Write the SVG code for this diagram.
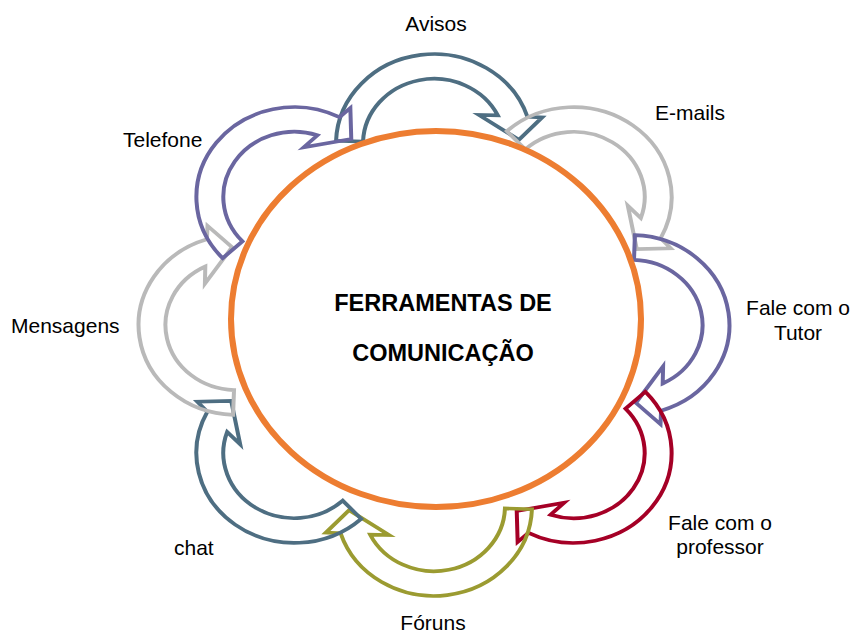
<svg xmlns="http://www.w3.org/2000/svg" xmlns:xlink="http://www.w3.org/1999/xlink" width="853" height="635" viewBox="0 0 853 635">
<defs>
<style>
.arr{fill:none;stroke-width:4;stroke-linejoin:miter;vector-effect:non-scaling-stroke}
.lbl{font-family:"Liberation Sans",Arial,sans-serif;font-size:21px;fill:#000}
.ctr{font-family:"Liberation Sans",Arial,sans-serif;font-size:23.5px;font-weight:bold;fill:#000}
</style>
<path id="arc" d="M -97.94 -3.42 A 98 98 0 0 1 93.4 -29.6 L 108.2 -29 L 84.9 -4.4 L 45 -31.6 L 63.8 -31.2 A 71 71 0 0 0 -70.96 -2.48 Z"/>
</defs>
<rect width="853" height="635" fill="#fff"/>
<g id="connectors">
<g id="avisos"><use xlink:href="#arc" class="arr" stroke="#4E6E82" transform="translate(434 325) scale(1 0.917) rotate(0) translate(0 -197.5)"/><text class="lbl" x="436" y="31" text-anchor="middle">Avisos</text></g>
<g id="emails"><use xlink:href="#arc" class="arr" stroke="#B9B9B9" transform="translate(434 325) scale(1 0.917) rotate(45) translate(0 -197.5)"/><text class="lbl" x="655" y="120">E-mails</text></g>
<g id="tutor"><use xlink:href="#arc" class="arr" stroke="#6A66A0" transform="translate(434 325) scale(1 0.917) rotate(90) translate(0 -197.5)"/><text class="lbl" x="798" y="315" text-anchor="middle">Fale com o</text><text class="lbl" x="798" y="340" text-anchor="middle">Tutor</text></g>
<g id="professor"><use xlink:href="#arc" class="arr" stroke="#A50026" transform="translate(434 325) scale(1 0.917) rotate(135) translate(0 -197.5)"/><text class="lbl" x="720" y="530" text-anchor="middle">Fale com o</text><text class="lbl" x="720" y="554" text-anchor="middle">professor</text></g>
<g id="foruns"><use xlink:href="#arc" class="arr" stroke="#9B9B31" transform="translate(434 325) scale(1 0.917) rotate(180) translate(0 -197.5)"/><text class="lbl" x="433" y="630" text-anchor="middle">Fóruns</text></g>
<g id="chat"><use xlink:href="#arc" class="arr" stroke="#4E6E82" transform="translate(434 325) scale(1 0.917) rotate(225) translate(0 -197.5)"/><text class="lbl" x="174" y="555">chat</text></g>
<g id="mensagens"><use xlink:href="#arc" class="arr" stroke="#B9B9B9" transform="translate(434 325) scale(1 0.917) rotate(270) translate(0 -197.5)"/><text class="lbl" x="11" y="333">Mensagens</text></g>
<g id="telefone"><use xlink:href="#arc" class="arr" stroke="#6A66A0" transform="translate(434 325) scale(1 0.917) rotate(315) translate(0 -197.5)"/><text class="lbl" x="123" y="147">Telefone</text></g>
</g>
<g id="centro">
<ellipse cx="436" cy="319" rx="205" ry="188" fill="#fff" stroke="#ED7D31" stroke-width="6"/>
<text class="ctr" x="443" y="311" text-anchor="middle">FERRAMENTAS DE</text>
<text class="ctr" x="443" y="361" text-anchor="middle">COMUNICAÇÃO</text>
</g>
</svg>
